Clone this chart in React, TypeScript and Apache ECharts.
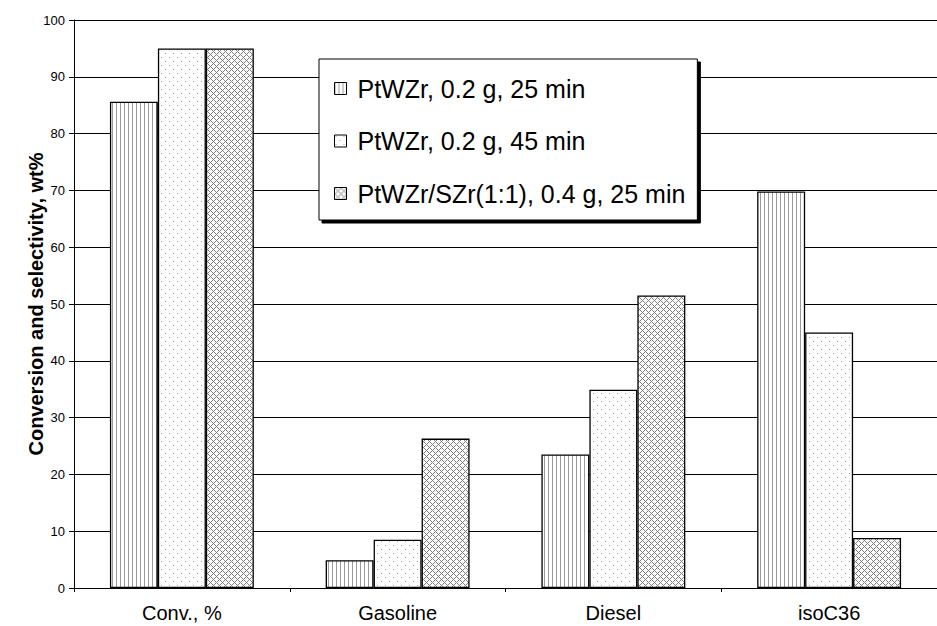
import React, { useEffect, useRef } from "react";
import * as echarts from "echarts";

const categories = ["Conv., %", "Gasoline", "Diesel", "isoC36"];
const seriesNames = [
  "PtWZr, 0.2 g, 25 min",
  "PtWZr, 0.2 g, 45 min",
  "PtWZr/SZr(1:1), 0.4 g, 25 min",
];
const values25 = [85.6, 4.9, 23.5, 69.8];
const values45 = [95.0, 8.5, 34.9, 45.0];
const valuesMix = [95.0, 26.3, 51.5, 8.8];
const yTicks = { min: 0, max: 100, interval: 10 };

function makePattern(kind: string): HTMLCanvasElement {
  const c = document.createElement("canvas");
  const size = kind === "lines" ? 4 : kind === "dots" ? 8 : 6;
  c.width = size;
  c.height = size;
  const ctx = c.getContext("2d")!;
  ctx.fillStyle = "#ffffff";
  ctx.fillRect(0, 0, size, size);
  if (kind === "lines") {
    ctx.fillStyle = "#9a9a9a";
    ctx.fillRect(0, 0, 1, size);
  } else if (kind === "dots") {
    ctx.fillStyle = "#a0a0a0";
    ctx.fillRect(1, 1, 1, 1);
    ctx.fillRect(5, 5, 1, 1);
  } else {
    ctx.fillStyle = "#808080";
    for (let x = 0; x < size; x++) {
      for (let y = 0; y < size; y++) {
        if ((x + y) % size === 0 || (((x - y) % size) + size) % size === 0) {
          ctx.fillRect(x, y, 1, 1);
        }
      }
    }
  }
  return c;
}

export default function App() {
  const ref = useRef<HTMLDivElement>(null);
  useEffect(() => {
    if (!ref.current) return;
    const chart = echarts.init(ref.current, undefined, { renderer: "svg" });
    const patterns = [makePattern("lines"), makePattern("dots"), makePattern("cross")];
    const data = [values25, values45, valuesMix];
    chart.setOption({
      animation: false,
      backgroundColor: "#ffffff",
      textStyle: { fontFamily: "Liberation Sans, Arial, sans-serif", color: "#000" },
      grid: { left: 74, top: 20, bottom: 38, right: -9, containLabel: false },
      legend: {
        orient: "vertical",
        left: 319,
        top: 59,
        padding: [17, 12, 14, 15],
        itemGap: 27.5,
        itemWidth: 12,
        itemHeight: 12,
        icon: "rect",
        backgroundColor: "#ffffff",
        borderColor: "#000",
        borderWidth: 1,
        shadowColor: "#000",
        shadowBlur: 0,
        shadowOffsetX: 3,
        shadowOffsetY: 3,
        itemStyle: { borderColor: "#000", borderWidth: 1 },
        textStyle: {
          fontSize: 25,
          lineHeight: 25,
          color: "#000",
          fontFamily: "Liberation Sans, Arial, sans-serif",
          padding: [0, 0, 0, 6],
        },
        data: seriesNames,
      },
      xAxis: {
        type: "category",
        data: categories,
        boundaryGap: true,
        axisLine: { lineStyle: { color: "#000", width: 1 } },
        axisTick: { show: true, length: 4, inside: false, lineStyle: { color: "#000" } },
        axisLabel: { fontSize: 20, color: "#000", margin: 15 },
        splitLine: { show: false },
      },
      yAxis: {
        type: "value",
        min: yTicks.min,
        max: yTicks.max,
        interval: yTicks.interval,
        name: "Conversion and selectivity, wt%",
        nameLocation: "middle",
        nameGap: 28,
        nameMoveOverlap: false,
        nameTextStyle: { fontSize: 20, fontWeight: "bold", color: "#000" },
        axisLine: { show: true, lineStyle: { color: "#000", width: 1 } },
        axisTick: { show: true, length: 5, lineStyle: { color: "#000" } },
        axisLabel: { fontSize: 13, color: "#000", margin: 9 },
        splitLine: { show: true, lineStyle: { color: "#000", width: 1 } },
      },
      series: seriesNames.map((name, i) => ({
        name,
        type: "bar",
        data: data[i],
        barGap: "0%",
        barCategoryGap: "33.3%",
        itemStyle: {
          color: { image: patterns[i], repeat: "repeat" },
          borderColor: "#000",
          borderWidth: 1.3,
        },
      })),
    });
    return () => chart.dispose();
  }, []);
  return (
    <div
      ref={ref}
      style={{ position: "fixed", left: 0, top: 0, width: 937, height: 626 }}
    />
  );
}
